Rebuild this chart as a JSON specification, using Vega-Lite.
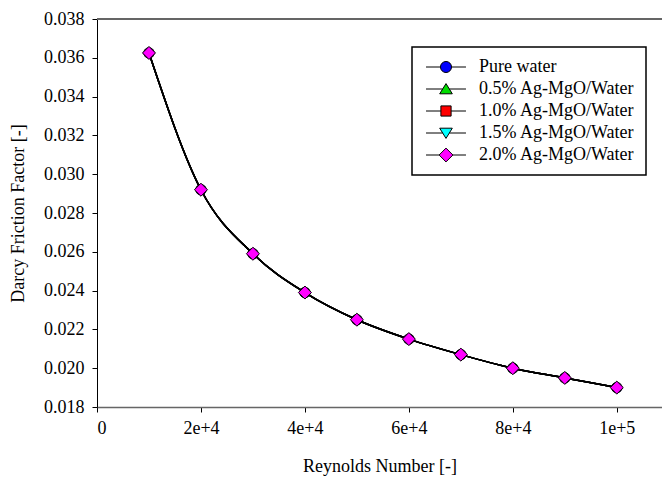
{
  "$schema": "https://vega.github.io/schema/vega-lite/v6.json",
  "width": 565,
  "height": 388,
  "autosize": {"type": "none"},
  "padding": {"left": 97, "top": 19, "right": 0, "bottom": 70},
  "background": "white",
  "config": {
    "view": {"stroke": null},
    "font": "Liberation Serif",
    "axis": {"labelFont": "Liberation Serif", "titleFont": "Liberation Serif", "labelFontSize": 18, "titleFontSize": 18, "titleFontWeight": "normal", "labelColor": "black", "titleColor": "black", "tickColor": "black", "grid": false, "tickSize": 5},
    "legend": {"labelFont": "Liberation Serif", "labelFontSize": 18, "labelColor": "black", "strokeWidth": 1.5}
  },
  "data": {"values": [
    {"series": "Pure water", "re": 10000, "f": 0.03625},
    {"series": "Pure water", "re": 20000, "f": 0.0292},
    {"series": "Pure water", "re": 30000, "f": 0.0259},
    {"series": "Pure water", "re": 40000, "f": 0.0239},
    {"series": "Pure water", "re": 50000, "f": 0.0225},
    {"series": "Pure water", "re": 60000, "f": 0.0215},
    {"series": "Pure water", "re": 70000, "f": 0.0207},
    {"series": "Pure water", "re": 80000, "f": 0.0200},
    {"series": "Pure water", "re": 90000, "f": 0.0195},
    {"series": "Pure water", "re": 100000, "f": 0.0190},
    {"series": "0.5% Ag-MgO/Water", "re": 10000, "f": 0.03625},
    {"series": "0.5% Ag-MgO/Water", "re": 20000, "f": 0.0292},
    {"series": "0.5% Ag-MgO/Water", "re": 30000, "f": 0.0259},
    {"series": "0.5% Ag-MgO/Water", "re": 40000, "f": 0.0239},
    {"series": "0.5% Ag-MgO/Water", "re": 50000, "f": 0.0225},
    {"series": "0.5% Ag-MgO/Water", "re": 60000, "f": 0.0215},
    {"series": "0.5% Ag-MgO/Water", "re": 70000, "f": 0.0207},
    {"series": "0.5% Ag-MgO/Water", "re": 80000, "f": 0.0200},
    {"series": "0.5% Ag-MgO/Water", "re": 90000, "f": 0.0195},
    {"series": "0.5% Ag-MgO/Water", "re": 100000, "f": 0.0190},
    {"series": "1.0% Ag-MgO/Water", "re": 10000, "f": 0.03625},
    {"series": "1.0% Ag-MgO/Water", "re": 20000, "f": 0.0292},
    {"series": "1.0% Ag-MgO/Water", "re": 30000, "f": 0.0259},
    {"series": "1.0% Ag-MgO/Water", "re": 40000, "f": 0.0239},
    {"series": "1.0% Ag-MgO/Water", "re": 50000, "f": 0.0225},
    {"series": "1.0% Ag-MgO/Water", "re": 60000, "f": 0.0215},
    {"series": "1.0% Ag-MgO/Water", "re": 70000, "f": 0.0207},
    {"series": "1.0% Ag-MgO/Water", "re": 80000, "f": 0.0200},
    {"series": "1.0% Ag-MgO/Water", "re": 90000, "f": 0.0195},
    {"series": "1.0% Ag-MgO/Water", "re": 100000, "f": 0.0190},
    {"series": "1.5% Ag-MgO/Water", "re": 10000, "f": 0.03625},
    {"series": "1.5% Ag-MgO/Water", "re": 20000, "f": 0.0292},
    {"series": "1.5% Ag-MgO/Water", "re": 30000, "f": 0.0259},
    {"series": "1.5% Ag-MgO/Water", "re": 40000, "f": 0.0239},
    {"series": "1.5% Ag-MgO/Water", "re": 50000, "f": 0.0225},
    {"series": "1.5% Ag-MgO/Water", "re": 60000, "f": 0.0215},
    {"series": "1.5% Ag-MgO/Water", "re": 70000, "f": 0.0207},
    {"series": "1.5% Ag-MgO/Water", "re": 80000, "f": 0.0200},
    {"series": "1.5% Ag-MgO/Water", "re": 90000, "f": 0.0195},
    {"series": "1.5% Ag-MgO/Water", "re": 100000, "f": 0.0190},
    {"series": "2.0% Ag-MgO/Water", "re": 10000, "f": 0.03625},
    {"series": "2.0% Ag-MgO/Water", "re": 20000, "f": 0.0292},
    {"series": "2.0% Ag-MgO/Water", "re": 30000, "f": 0.0259},
    {"series": "2.0% Ag-MgO/Water", "re": 40000, "f": 0.0239},
    {"series": "2.0% Ag-MgO/Water", "re": 50000, "f": 0.0225},
    {"series": "2.0% Ag-MgO/Water", "re": 60000, "f": 0.0215},
    {"series": "2.0% Ag-MgO/Water", "re": 70000, "f": 0.0207},
    {"series": "2.0% Ag-MgO/Water", "re": 80000, "f": 0.0200},
    {"series": "2.0% Ag-MgO/Water", "re": 90000, "f": 0.0195},
    {"series": "2.0% Ag-MgO/Water", "re": 100000, "f": 0.0190}
  ]},
  "encoding": {
    "x": {"field": "re", "type": "quantitative", "scale": {"domain": [0, 108700], "nice": false, "zero": false},
      "axis": {"title": "Reynolds Number [-]", "values": [0, 20000, 40000, 60000, 80000, 100000], "labelExpr": "datum.value == 0 ? '0' : format(datum.value, '.0e')", "domainColor": "#666666", "domainWidth": 1.5, "labelPadding": 7, "titlePadding": 20}},
    "y": {"field": "f", "type": "quantitative", "scale": {"domain": [0.018, 0.038], "nice": false, "zero": false},
      "axis": {"title": "Darcy Friction Factor [-]", "values": [0.018, 0.020, 0.022, 0.024, 0.026, 0.028, 0.030, 0.032, 0.034, 0.036, 0.038], "format": ".3f", "domainColor": "black", "labelPadding": 8, "titlePadding": 16}}
  },
  "layer": [
    {
      "mark": {"type": "rule", "color": "#666666", "strokeWidth": 1.5},
      "encoding": {"y": {"datum": 0.038}, "x": {"datum": 0}, "x2": {"datum": 108700}}
    },
    {
      "mark": {"type": "line", "color": "black", "strokeWidth": 1.5, "interpolate": "monotone"},
      "encoding": {"detail": {"field": "series"}}
    },
    {
      "transform": [{"filter": "datum.series == 'Pure water'"}],
      "mark": {"type": "point", "shape": "circle", "filled": true, "fill": "#0000ff", "stroke": "black", "strokeWidth": 1, "opacity": 1, "size": 110}
    },
    {
      "transform": [{"filter": "datum.series == '0.5% Ag-MgO/Water'"}],
      "mark": {"type": "point", "shape": "triangle-up", "filled": true, "fill": "#00dd00", "stroke": "black", "strokeWidth": 1, "opacity": 1, "size": 60}
    },
    {
      "transform": [{"filter": "datum.series == '1.0% Ag-MgO/Water'"}],
      "mark": {"type": "point", "shape": "square", "filled": true, "fill": "#ff0000", "stroke": "black", "strokeWidth": 1, "opacity": 1, "size": 45}
    },
    {
      "transform": [{"filter": "datum.series == '1.5% Ag-MgO/Water'"}],
      "mark": {"type": "point", "shape": "triangle-down", "filled": true, "fill": "#00ffff", "stroke": "black", "strokeWidth": 1, "opacity": 1, "size": 60}
    },
    {
      "transform": [{"filter": "datum.series == '2.0% Ag-MgO/Water'"}],
      "mark": {"type": "point", "shape": "diamond", "filled": true, "fill": "#ff00ff", "stroke": "black", "strokeWidth": 1, "opacity": 1, "size": 170}
    },
    {
      "mark": {"type": "point", "filled": true, "stroke": "black", "strokeWidth": 1, "opacity": 0, "size": 144},
      "encoding": {
        "color": {"field": "series", "type": "nominal",
          "scale": {"domain": ["Pure water", "0.5% Ag-MgO/Water", "1.0% Ag-MgO/Water", "1.5% Ag-MgO/Water", "2.0% Ag-MgO/Water"], "range": ["#0000ff", "#00dd00", "#ff0000", "#00ffff", "#ff00ff"]},
          "legend": {"title": null, "orient": "none", "legendX": 315, "legendY": 28, "padding": 11, "strokeColor": "black", "fillColor": "white", "symbolOpacity": 1, "symbolStrokeColor": "black", "symbolStrokeWidth": 1, "symbolSize": 144, "symbolOffset": 14, "labelOffset": 24, "rowPadding": 4, "labelFontSize": 18,
            "encode": {"symbols": {"update": {"stroke": {"value": "black"}, "strokeWidth": {"value": 1}, "opacity": {"value": 1}}}}}},
        "shape": {"field": "series", "type": "nominal",
          "scale": {"domain": ["Pure water", "0.5% Ag-MgO/Water", "1.0% Ag-MgO/Water", "1.5% Ag-MgO/Water", "2.0% Ag-MgO/Water"], "range": [
            "M-3.33,0H-0.92M0.92,0H3.33M0.92,0A0.92,0.92 0 1,1 -0.92,0A0.92,0.92 0 1,1 0.92,0Z",
            "M-3.33,0H-0.55M0.55,0H3.33M0,-0.9L1.05,0.8L-1.05,0.8Z",
            "M-3.33,0H-0.85M0.85,0H3.33M-0.85,-0.85H0.85V0.85H-0.85Z",
            "M-3.33,0H-0.55M0.55,0H3.33M0,0.9L1.05,-0.8L-1.05,-0.8Z",
            "M-3.33,0H-1.15M1.15,0H3.33M0,-1.15L1.15,0L0,1.15L-1.15,0Z"]},
          "legend": {"title": null, "orient": "none", "legendX": 315, "legendY": 28, "padding": 11, "strokeColor": "black", "fillColor": "white", "symbolOpacity": 1, "symbolStrokeColor": "black", "symbolStrokeWidth": 1, "symbolSize": 144, "symbolOffset": 14, "labelOffset": 24, "rowPadding": 4, "labelFontSize": 18,
            "encode": {"symbols": {"update": {"stroke": {"value": "black"}, "strokeWidth": {"value": 1}, "opacity": {"value": 1}}}}}}
      }
    }
  ]
}
